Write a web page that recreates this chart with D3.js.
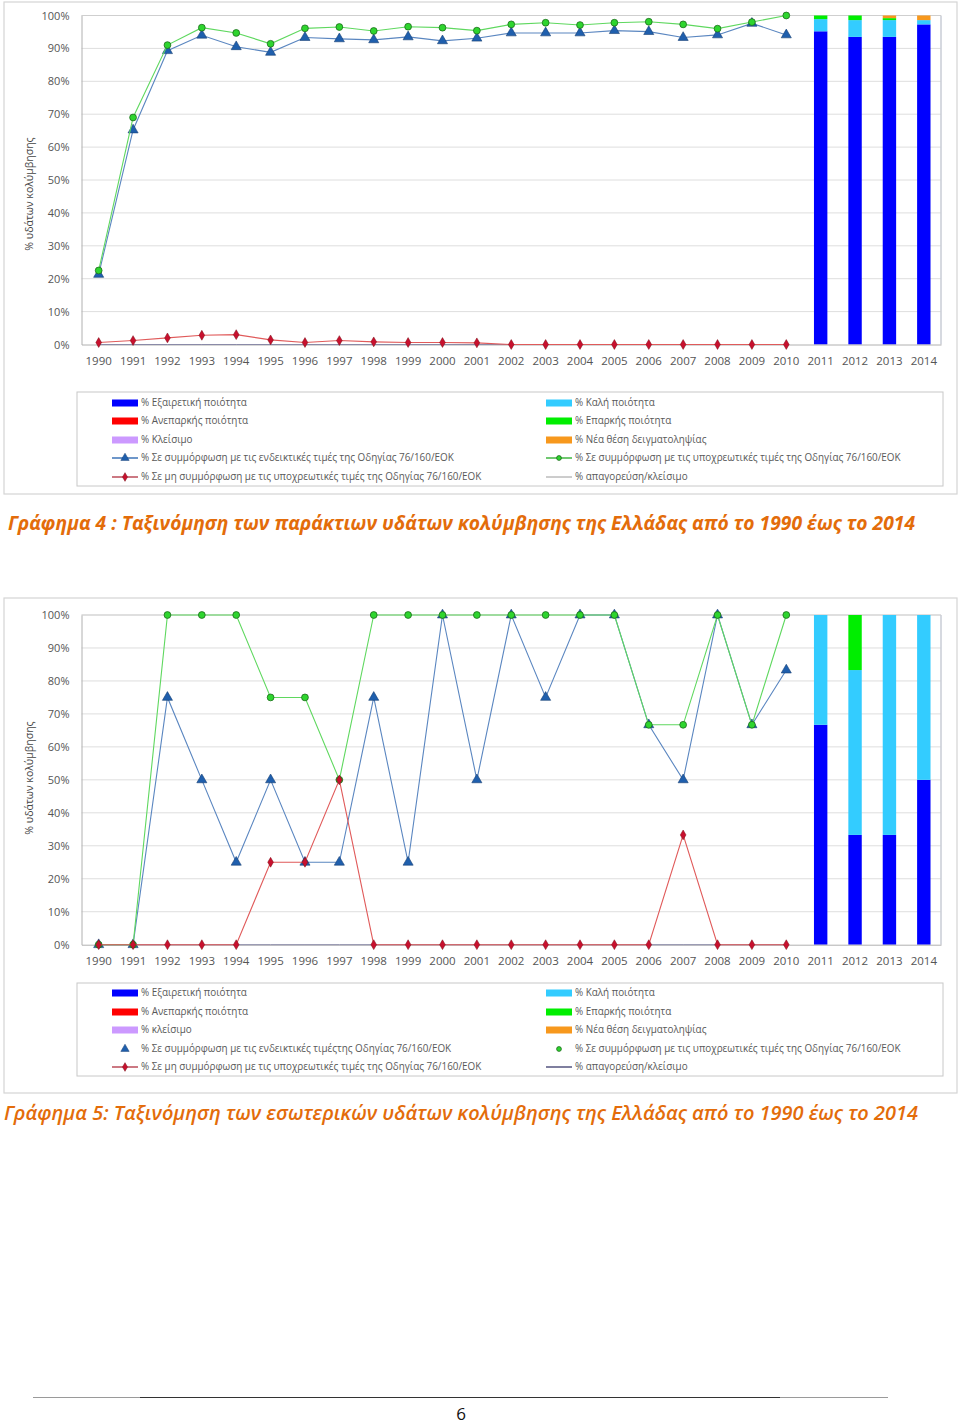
<!DOCTYPE html>
<html>
<head>
<meta charset="utf-8">
<script src="https://cdn.jsdelivr.net/npm/d3@7"></script>
<style>
  html, body { margin: 0; padding: 0; background: #ffffff; }
  svg { display: block; }
  text { font-family: "Open Sans", "Noto Sans", sans-serif; }
</style>
</head>
<body>
<svg id="page" width="960" height="1424"></svg>
<script>
// ---------- DATA ----------
const years = ["1990","1991","1992","1993","1994","1995","1996","1997","1998","1999","2000","2001","2002","2003","2004","2005","2006","2007","2008","2009","2010","2011","2012","2013","2014"];
const lineYears = ["1990","1991","1992","1993","1994","1995","1996","1997","1998","1999","2000","2001","2002","2003","2004","2005","2006","2007","2008","2009","2010"];
const barYears = ["2011","2012","2013","2014"];
const yTicks = [0,10,20,30,40,50,60,70,80,90,100];

// Graph 4 - coastal waters
const coastalMandatory    = [22.5, 69, 91, 96.3, 94.7, 91.4, 96.1, 96.5, 95.3, 96.6, 96.3, 95.4, 97.3, 97.8, 97.1, 97.8, 98.1, 97.3, 96.0, 98.0, 100];
const coastalIndicative   = [21.3, 65.2, 89.3, 94.0, 90.5, 88.8, 93.3, 92.9, 92.6, 93.5, 92.3, 93.1, 94.7, 94.7, 94.7, 95.4, 95.1, 93.3, 94.1, 97.6, 94.1];
const coastalNonComp      = [0.6, 1.2, 2.0, 2.8, 3.0, 1.4, 0.6, 1.2, 0.8, 0.6, 0.6, 0.5, 0, 0, 0, 0, 0, 0, 0, 0, 0];
const coastalBan          = [0, 0, 0, 0, 0, 0, 0, 0, 0, 0, 0, 0, 0, 0, 0, 0, 0, 0, 0, 0, 0];
const coastalExcellent    = [95.2, 93.5, 93.5, 97.3];
const coastalGood         = [3.7, 5.1, 5.1, 1.3];
const coastalSufficient   = [1.1, 1.4, 0.6, 0];
const coastalPoor         = [0, 0, 0, 0];
const coastalClosed       = [0, 0, 0, 0];
const coastalNew          = [0, 0, 0.8, 1.4];

// Graph 5 - inland waters
const inlandMandatory     = [0, 0, 100, 100, 100, 75, 75, 50, 100, 100, 100, 100, 100, 100, 100, 100, 66.7, 66.7, 100, 66.7, 100];
const inlandIndicative    = [0, 0, 75, 50, 25, 50, 25, 25, 75, 25, 100, 50, 100, 75, 100, 100, 66.7, 50, 100, 66.7, 83.3];
const inlandNonComp       = [0, 0, 0, 0, 0, 25, 25, 50, 0, 0, 0, 0, 0, 0, 0, 0, 0, 33.3, 0, 0, 0];
const inlandBan           = [0, 0, 0, 0, 0, 0, 0, 0, 0, 0, 0, 0, 0, 0, 0, 0, 0, 0, 0, 0, 0];
const inlandExcellent     = [66.7, 33.3, 33.3, 50];
const inlandGood          = [33.3, 50, 66.7, 50];
const inlandSufficient    = [0, 16.7, 0, 0];
const inlandPoor          = [0, 0, 0, 0];
const inlandClosed        = [0, 0, 0, 0];
const inlandNew           = [0, 0, 0, 0];

const yAxisTitle = "% υδάτων κολύμβησης";
const caption4 = "Γράφημα 4 : Ταξινόμηση των παράκτιων υδάτων κολύμβησης της Ελλάδας από το 1990 έως το 2014";
const caption5 = "Γράφημα 5: Ταξινόμηση των εσωτερικών υδάτων κολύμβησης της Ελλάδας από το 1990 έως το 2014";

const legend4 = {
  left: ["% Εξαιρετική ποιότητα", "% Ανεπαρκής ποιότητα", "% Κλείσιμο",
         "% Σε συμμόρφωση με τις ενδεικτικές τιμές της Οδηγίας 76/160/ΕΟΚ",
         "% Σε μη συμμόρφωση με τις υποχρεωτικές τιμές της Οδηγίας 76/160/ΕΟΚ"],
  right: ["% Καλή ποιότητα", "% Επαρκής ποιότητα", "% Νέα θέση δειγματοληψίας",
          "% Σε συμμόρφωση με τις υποχρεωτικές τιμές της Οδηγίας 76/160/ΕΟΚ",
          "% απαγορεύση/κλείσιμο"]
};
const legend5 = {
  left: ["% Εξαιρετική ποιότητα", "% Ανεπαρκής ποιότητα", "% κλείσιμο",
         "% Σε συμμόρφωση με τις ενδεικτικές τιμέςτης Οδηγίας 76/160/ΕΟΚ",
         "% Σε μη συμμόρφωση με τις υποχρεωτικές τιμές της Οδηγίας 76/160/ΕΟΚ"],
  right: ["% Καλή ποιότητα", "% Επαρκής ποιότητα", "% Νέα θέση δειγματοληψίας",
          "% Σε συμμόρφωση με τις υποχρεωτικές τιμές της Οδηγίας 76/160/ΕΟΚ",
          "% απαγορεύση/κλείσιμο"]
};

// ---------- STYLE ----------
const C = {
  excellent: "#0000ff", good: "#33ccff", sufficient: "#00ee00", poor: "#ff0000",
  closed: "#cc99ff", newsite: "#f7981d",
  greenLine: "#5fd85f", greenFill: "#2ed52e", greenStroke: "#1d6b1d",
  blueLine: "#5a86c0", blueFill: "#1f5fad", blueStroke: "#173f73",
  redLine: "#e05a5a", redFill: "#c8102e", redStroke: "#7a0a14",
  banLine: "#8a8aa8",
  grid: "#dedede", axis: "#b0b0b0", text: "#555555"
};

const svg = d3.select("#page");

function drawChart(cfg) {
  const g = svg.append("g");
  g.append("rect").attr("x", cfg.frame[0]).attr("y", cfg.frame[1])
    .attr("width", cfg.frame[2]).attr("height", cfg.frame[3])
    .attr("fill", "#fff").attr("stroke", "#d4d4d4").attr("stroke-width", 1.2);

  const x = d3.scaleBand().domain(years).range([cfg.left, cfg.right]).padding(0);
  const y = d3.scaleLinear().domain([0, 100]).range([cfg.bottom, cfg.top]);
  const cx = d => x(d) + x.bandwidth() / 2;
  const barW = x.bandwidth() * 0.39;

  g.append("g").selectAll("line").data(yTicks.filter(t => t > 0)).join("line")
    .attr("x1", cfg.left).attr("x2", cfg.right)
    .attr("y1", d => y(d)).attr("y2", d => y(d))
    .attr("stroke", C.grid).attr("stroke-width", 1);
  g.append("line").attr("x1", cfg.right).attr("x2", cfg.right)
    .attr("y1", y(100)).attr("y2", y(0)).attr("stroke", "#c9ccd6").attr("stroke-width", 1.5);
  g.append("line").attr("x1", cfg.left).attr("x2", cfg.right)
    .attr("y1", y(100)).attr("y2", y(100)).attr("stroke", "#cfcfcf").attr("stroke-width", 1.2);

  const keys = ["excellent", "good", "sufficient", "poor", "closed", "newsite"];
  const rows = barYears.map((yr, i) => ({
    year: yr, excellent: cfg.bars.excellent[i], good: cfg.bars.good[i],
    sufficient: cfg.bars.sufficient[i], poor: cfg.bars.poor[i],
    closed: cfg.bars.closed[i], newsite: cfg.bars.newsite[i]
  }));
  const stacked = d3.stack().keys(keys)(rows);
  g.append("g").selectAll("g").data(stacked).join("g")
    .attr("fill", d => C[d.key])
    .selectAll("rect").data(d => d).join("rect")
    .attr("x", d => cx(d.data.year) - barW / 2)
    .attr("width", barW)
    .attr("y", d => y(d[1]))
    .attr("height", d => Math.max(0, y(d[0]) - y(d[1])));

  const yAxis = d3.axisLeft(y).tickValues(yTicks).tickFormat(d => d + "%").tickSize(0).tickPadding(12);
  const ya = g.append("g").attr("transform", `translate(${cfg.left},0)`).call(yAxis);
  ya.select(".domain").attr("stroke", C.axis);
  ya.selectAll("text").attr("fill", C.text).style("font-size", "11px");

  const xAxis = d3.axisBottom(x).tickSize(0).tickPadding(12);
  const xa = g.append("g").attr("transform", `translate(0,${cfg.bottom})`).call(xAxis);
  xa.select(".domain").attr("stroke", C.axis);
  xa.selectAll("text").attr("fill", C.text).style("font-size", "11.5px");

  const line = d3.line().x((d, i) => cx(lineYears[i])).y(d => y(d));
  g.append("path").attr("d", line(cfg.ban)).attr("fill", "none")
    .attr("stroke", C.banLine).attr("stroke-width", 1);

  g.append("path").attr("d", line(cfg.indicative)).attr("fill", "none")
    .attr("stroke", C.blueLine).attr("stroke-width", 1.1);
  g.append("g").selectAll("path").data(cfg.indicative).join("path")
    .attr("d", d3.symbol().type(d3.symbolTriangle).size(44))
    .attr("transform", (d, i) => `translate(${cx(lineYears[i])},${y(d)})`)
    .attr("fill", C.blueFill).attr("stroke", C.blueStroke).attr("stroke-width", 0.6);

  g.append("path").attr("d", line(cfg.mandatory)).attr("fill", "none")
    .attr("stroke", C.greenLine).attr("stroke-width", 1.1);
  g.append("g").selectAll("circle").data(cfg.mandatory).join("circle")
    .attr("cx", (d, i) => cx(lineYears[i])).attr("cy", d => y(d)).attr("r", 3.4)
    .attr("fill", C.greenFill).attr("stroke", C.greenStroke).attr("stroke-width", 0.8);

  g.append("path").attr("d", line(cfg.noncomp)).attr("fill", "none")
    .attr("stroke", C.redLine).attr("stroke-width", 1.1);
  g.append("g").selectAll("path").data(cfg.noncomp).join("path")
    .attr("d", d3.symbol().type(d3.symbolDiamond).size(28))
    .attr("transform", (d, i) => `translate(${cx(lineYears[i])},${y(d)})`)
    .attr("fill", C.redFill).attr("stroke", C.redStroke).attr("stroke-width", 0.5);

  g.append("text").attr("transform", `translate(${cfg.titleX},${cfg.titleY}) rotate(-90)`)
    .attr("text-anchor", "middle").attr("dominant-baseline", "middle")
    .attr("fill", "#444").style("font-size", "10.5px").text(yAxisTitle);

  const L = cfg.legend;
  g.append("rect").attr("x", L.box[0]).attr("y", L.box[1]).attr("width", L.box[2]).attr("height", L.box[3])
    .attr("fill", "#fff").attr("stroke", "#c8c8c8").attr("stroke-width", 1);
  const leftKinds = ["excellent", "poor", "closed", "tri", "diamond"];
  const rightKinds = ["good", "sufficient", "newsite", "circle", "ban"];
  function item(kind, label, sx, ry) {
    const gg = g.append("g");
    const x0 = sx, x1 = sx + 26, mx = sx + 13;
    if (["excellent","poor","closed","good","sufficient","newsite"].includes(kind)) {
      gg.append("rect").attr("x", x0).attr("y", ry - 3.5).attr("width", 26).attr("height", 7).attr("fill", C[kind]);
    } else if (kind === "tri") {
      if (L.markerLines) gg.append("line").attr("x1", x0).attr("x2", x1).attr("y1", ry).attr("y2", ry).attr("stroke", C.blueFill).attr("stroke-width", 1.3);
      gg.append("path").attr("d", d3.symbol().type(d3.symbolTriangle).size(30)).attr("transform", `translate(${mx},${ry})`)
        .attr("fill", C.blueFill).attr("stroke", C.blueStroke).attr("stroke-width", 0.5);
    } else if (kind === "diamond") {
      gg.append("line").attr("x1", x0).attr("x2", x1).attr("y1", ry).attr("y2", ry).attr("stroke", "#b03040").attr("stroke-width", 1.3);
      gg.append("path").attr("d", d3.symbol().type(d3.symbolDiamond).size(22)).attr("transform", `translate(${mx},${ry})`)
        .attr("fill", C.redFill).attr("stroke", C.redStroke).attr("stroke-width", 0.5);
    } else if (kind === "circle") {
      if (L.markerLines) gg.append("line").attr("x1", x0).attr("x2", x1).attr("y1", ry).attr("y2", ry).attr("stroke", "#22aa22").attr("stroke-width", 1.3);
      gg.append("circle").attr("cx", mx).attr("cy", ry).attr("r", 2.4)
        .attr("fill", C.greenFill).attr("stroke", C.greenStroke).attr("stroke-width", 0.8);
    } else if (kind === "ban") {
      gg.append("line").attr("x1", x0).attr("x2", x1).attr("y1", ry).attr("y2", ry).attr("stroke", L.banColor).attr("stroke-width", L.banWidth);
    }
    gg.append("text").attr("x", sx + 29).attr("y", ry).attr("dominant-baseline", "middle")
      .attr("fill", "#595959").style("font-size", "9.9px").text(label);
  }
  L.rows.forEach((ry, i) => {
    item(leftKinds[i], L.labels.left[i], L.leftX, ry);
    item(rightKinds[i], L.labels.right[i], L.rightX, ry);
  });
}

drawChart({
  frame: [4, 2, 953, 492],
  left: 81.5, right: 941, top: 15.5, bottom: 344.5, titleX: 30, titleY: 194,
  mandatory: coastalMandatory, indicative: coastalIndicative, noncomp: coastalNonComp, ban: coastalBan,
  bars: { excellent: coastalExcellent, good: coastalGood, sufficient: coastalSufficient,
          poor: coastalPoor, closed: coastalClosed, newsite: coastalNew },
  legend: { box: [77, 392, 866, 94], rows: [403, 421, 440, 458, 477], leftX: 112, rightX: 546,
            labels: legend4, markerLines: true, banColor: "#9a9a9a", banWidth: 1 }
});

drawChart({
  frame: [4, 598, 953, 495],
  left: 81.5, right: 941, top: 615, bottom: 944.7, titleX: 30, titleY: 778,
  mandatory: inlandMandatory, indicative: inlandIndicative, noncomp: inlandNonComp, ban: inlandBan,
  bars: { excellent: inlandExcellent, good: inlandGood, sufficient: inlandSufficient,
          poor: inlandPoor, closed: inlandClosed, newsite: inlandNew },
  legend: { box: [77, 983, 866, 93], rows: [993, 1012, 1030, 1049, 1067], leftX: 112, rightX: 546,
            labels: legend5, markerLines: false, banColor: "#7f7f9f", banWidth: 2 }
});

svg.append("text").attr("x", 8).attr("y", 530)
  .attr("fill", "#e36c0a").style("font-size", "19px").style("font-weight", "700").style("font-style", "italic")
  .attr("textLength", 907).attr("lengthAdjust", "spacingAndGlyphs").text(caption4);
svg.append("text").attr("x", 4).attr("y", 1120)
  .attr("fill", "#e36c0a").style("font-size", "19px").style("font-weight", "600").style("font-style", "italic")
  .attr("textLength", 914).attr("lengthAdjust", "spacingAndGlyphs").text(caption5);

svg.append("line").attr("x1", 33).attr("x2", 888).attr("y1", 1397.5).attr("y2", 1397.5)
  .attr("stroke", "#9a9a9a").attr("stroke-width", 1);
svg.append("line").attr("x1", 140).attr("x2", 780).attr("y1", 1397.5).attr("y2", 1397.5)
  .attr("stroke", "#333").attr("stroke-width", 1.2);
svg.append("text").attr("x", 461).attr("y", 1420).attr("text-anchor", "middle")
  .attr("fill", "#111").style("font-size", "17px").text("6");
</script>
</body>
</html>
